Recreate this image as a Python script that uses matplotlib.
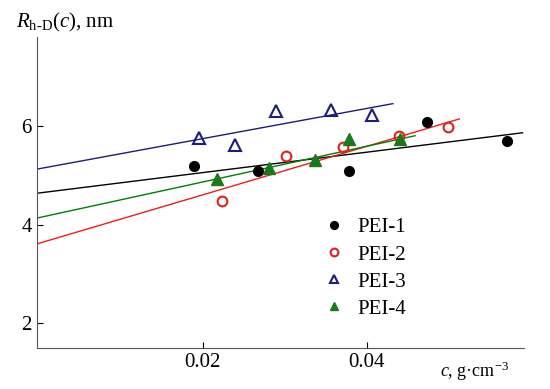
# -*- coding: utf-8 -*-
import numpy as np
import matplotlib
matplotlib.use("Agg")
import matplotlib.pyplot as plt

plt.rcParams['font.family'] = ['Liberation Serif', 'DejaVu Serif']
plt.rcParams['mathtext.fontset'] = 'custom'
plt.rcParams['mathtext.rm'] = 'Liberation Serif'
plt.rcParams['mathtext.it'] = 'Liberation Serif:italic'

# Datos
c1 = [0.0189, 0.0268, 0.0379, 0.0473, 0.0571]
r1 = [5.19, 5.09, 5.09, 6.08, 5.70]
c2 = [0.0224, 0.0302, 0.0371, 0.0439, 0.0499]
r2 = [4.48, 5.39, 5.58, 5.80, 5.98]
c3 = [0.0196, 0.0240, 0.0289, 0.0356, 0.0407]
r3 = [5.76, 5.62, 6.30, 6.32, 6.22]
c4 = [0.0217, 0.0281, 0.0337, 0.0378, 0.0441]
r4 = [4.93, 5.15, 5.31, 5.73, 5.73]

# Rectas de ajuste: (c inicial, c final), (R inicial, R final)
fit1 = ([0.0, 0.059], [4.64, 5.86])
fit2 = ([0.0, 0.0513], [3.62, 6.14])
fit3 = ([0.0, 0.0432], [5.13, 6.45])
fit4 = ([0.0, 0.0459], [4.14, 5.80])

fig = plt.figure(figsize=(5.5, 3.89), dpi=100)
ax = fig.add_axes([0.067, 0.105, 0.886, 0.80])

ax.plot(*fit1, color='black', lw=1)
ax.plot(*fit2, color='#ee1c1c', lw=1)
ax.plot(*fit3, color='#1c1c80', lw=1)
ax.plot(*fit4, color='#008000', lw=1)

ax.plot(c1, r1, 'o', color='black', ms=7, label='PEI-1')
ax.plot(c2, r2, 'o', mfc='none', mec='#e0201c', mew=1.5, ms=7, label='PEI-2')
ax.plot(c3, r3, '^', mfc='none', mec='#1c1c80', mew=1.5, ms=8, label='PEI-3')
ax.plot(c4, r4, '^', color='#1a7a1a', ms=8, label='PEI-4')

ax.set_xlim(-0.0002, 0.0592)
ax.set_ylim(1.5, 7.8)
ax.set_xticks([0.02, 0.04])
ax.set_xticklabels(['0.02', '0.04'])
ax.set_yticks([2, 4, 6])
ax.tick_params(direction='in', labelsize=15, length=4, width=0.8)
for s in ['top', 'right']:
    ax.spines[s].set_visible(False)
ax.spines['left'].set_color('#555555')
ax.spines['bottom'].set_color('#555555')

ax.legend(loc='upper left', bbox_to_anchor=(0.585, 0.44),
          bbox_transform=fig.transFigure, frameon=False, borderpad=0,
          borderaxespad=0, fontsize=15, handletextpad=0.5, markerscale=0.8,
          labelspacing=0.36, handlelength=1.2)

fig.text(0.03, 0.93, r'$R_{\mathrm{h\text{-}D}}(c)$, nm', fontsize=15)
fig.text(0.80, 0.03, r'$c$, g·cm$^{-3}$', fontsize=13)

plt.savefig('out.png', dpi=100)
